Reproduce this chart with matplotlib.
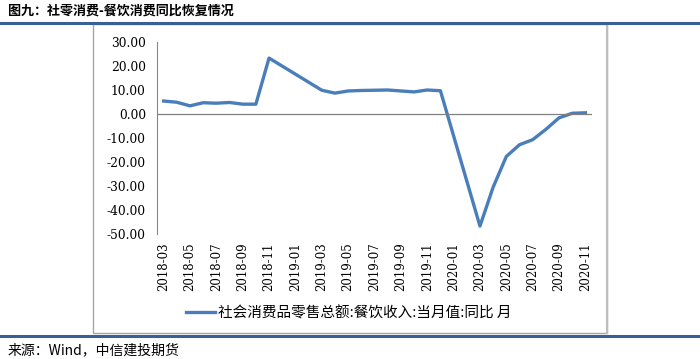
import numpy as np
import pandas as pd
import matplotlib
matplotlib.use('Agg')
import matplotlib.pyplot as plt
from matplotlib.lines import Line2D
from matplotlib.patches import Rectangle

plt.rcParams['font.family'] = ['Noto Sans CJK SC', 'DejaVu Sans']
plt.rcParams['axes.unicode_minus'] = False

# datos (ene/feb sin dato)
meses = ['2018-03', '2018-04', '2018-05', '2018-06', '2018-07', '2018-08', '2018-09',
         '2018-10', '2018-11', '2018-12', '2019-01', '2019-02', '2019-03', '2019-04',
         '2019-05', '2019-06', '2019-07', '2019-08', '2019-09', '2019-10', '2019-11',
         '2019-12', '2020-01', '2020-02', '2020-03', '2020-04', '2020-05', '2020-06',
         '2020-07', '2020-08', '2020-09', '2020-10', '2020-11']
valores = [5.4, 4.9, 3.4, 4.7, 4.5, 4.8, 4.1,
           4.1, 23.3, np.nan, np.nan, np.nan, 9.9, 8.7,
           9.6, 9.8, 9.9, 10.0, 9.6, 9.2, 10.0,
           9.7, np.nan, np.nan, -46.7, -30.5, -17.7, -12.8,
           -10.7, -6.4, -1.6, 0.3, 0.5]
serie_nombre = '社会消费品零售总额:餐饮收入:当月值:同比 月'
titulo = '图九：社零消费-餐饮消费同比恢复情况'
fuente = '来源：Wind，中信建投期货'

W, H = 700, 359
fig = plt.figure(figsize=(7, 3.59), dpi=100)

def fx(px):
    return px / W

def fy(py):
    return 1 - py / H

# caja del grafico
fig.add_artist(Rectangle((fx(93), fy(333)), fx(607) - fx(93), fy(24) - fy(333),
                         transform=fig.transFigure, fill=False, ec='#A6A6A6', lw=1))
fig.add_artist(Line2D([fx(607), fx(607)], [fy(333), fy(24)], transform=fig.transFigure,
                      color='#BDBDBD', lw=1.5))
# lineas azules
fig.add_artist(Line2D([0, 1], [fy(22.5), fy(22.5)], transform=fig.transFigure, color='#3A5E98', lw=2.2))
fig.add_artist(Line2D([0, 1], [fy(336), fy(336)], transform=fig.transFigure, color='#3A5E98', lw=2.2))

fig.text(fx(8), fy(11), titulo, fontsize=9.4, fontweight='bold', va='center', ha='left')
fig.text(fx(8), fy(350), fuente, fontsize=10, va='center', ha='left')

ax = fig.add_axes([fx(157), fy(234), fx(592) - fx(157), fy(42) - fy(234)])
s = pd.Series(valores, index=np.arange(len(meses))).dropna()
linea, = ax.plot(s.index, s.values, color='#4A7EBB', lw=2.4, solid_joinstyle='round')
ax.axhline(0, color='#808080', lw=0.9)

ax.set_xlim(-0.5, len(meses) - 0.5)
ax.set_ylim(-50, 30)
ax.set_yticks(np.arange(-50, 31, 10))
ax.set_yticklabels(['%.2f' % v for v in np.arange(-50, 31, 10)], family='DejaVu Serif', fontsize=8.8)
pos = np.arange(0, len(meses), 2)
ax.set_xticks(pos)
ax.set_xticklabels([meses[i] for i in pos], rotation=90, family='DejaVu Serif', fontsize=8.5)
ax.tick_params(axis='y', length=0, pad=8)
ax.tick_params(axis='x', length=0, pad=6)
for k in ['top', 'right', 'bottom']:
    ax.spines[k].set_visible(False)
ax.spines['left'].set_color('#868686')
ax.patch.set_alpha(0)

fig.legend([linea], [serie_nombre], loc='center left', bbox_to_anchor=(fx(186), fy(313)),
           bbox_transform=fig.transFigure, frameon=False, borderpad=0, borderaxespad=0,
           handlelength=2.0, handletextpad=0.2, prop={'size': 10.5})

plt.savefig('out.png', dpi=100)
